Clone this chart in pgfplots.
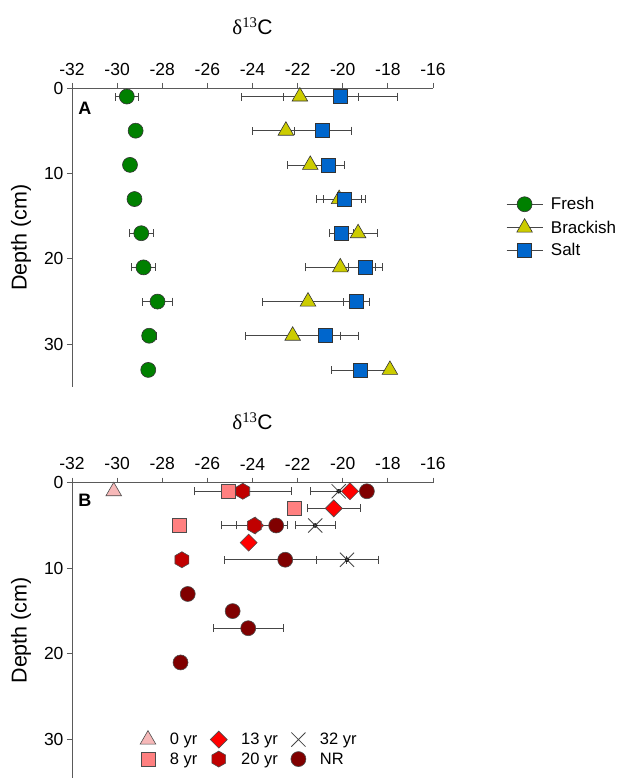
\documentclass[border=0pt]{standalone}
\usepackage{pgfplots}
\usepackage{pgfplotstable}
\pgfplotsset{compat=1.18}
\usepackage{fontspec}
\setmainfont{Liberation Sans}
\newfontfamily\tms{Liberation Serif}

\definecolor{fresh}{RGB}{0,128,0}
\definecolor{brack}{RGB}{204,204,0}
\definecolor{salt}{RGB}{0,102,204}
\definecolor{yrzero}{RGB}{246,184,184}
\definecolor{yreight}{RGB}{255,128,128}
\definecolor{yrthirteen}{RGB}{255,0,0}
\definecolor{yrtwenty}{RGB}{192,0,0}
\definecolor{nrcol}{RGB}{128,0,0}
\definecolor{axgray}{RGB}{90,90,90}
\definecolor{errgray}{RGB}{70,70,70}

% panel A: x = d13C, y = depth, ex = error
\pgfplotstableread{
x y ex
-29.57 1 0.50
-29.18 5 0
-29.43 9 0
-29.23 13 0
-28.93 17 0.52
-28.83 21 0.52
-28.21 25 0.65
-28.58 29 0.30
-28.62 33 0
}\fresh
\pgfplotstableread{
x y ex
-21.90 1 2.61
-22.52 5 1.50
-21.44 9 1.02
-20.16 13 0.99
-19.32 17 0.86
-20.11 21 1.55
-21.54 25 2.04
-22.22 29 2.11
-17.91 33 0
}\brackish
\pgfplotstableread{
x y ex
-20.10 1 2.52
-20.89 5 1.25
-20.64 9 0.71
-19.94 13 0.92
-20.07 17 0.53
-19.00 21 0.77
-19.39 25 0.59
-20.79 29 1.49
-19.24 33 1.25
}\salt

% panel B
\pgfplotstableread{
x y ex
-30.15 1 0
}\yrA
\pgfplotstableread{
x y ex
-25.08 1 0
-22.15 3 0
-27.24 5 0
}\yrB
\pgfplotstableread{
x y ex
-19.68 1 0
-20.40 3 1.17
-23.88 5 0.85
-24.17 7 0
}\yrC
\pgfplotstableread{
x y ex
-24.43 1 2.15
-23.92 5 1.47
-27.13 9 0
}\yrD
\pgfplotstableread{
x y ex
-20.18 1 1.26
-21.22 5 0.87
-19.81 9 1.37
}\yrE
\pgfplotstableread{
x y ex
-18.93 1 0
-22.95 5 0
-22.55 9 2.69
-26.87 13 0
-24.88 15 0
-24.19 17 1.55
-27.19 21 0
}\nr

% hexagon mark, point up
\pgfdeclareplotmark{hexagon*}{%
  \pgfpathmoveto{\pgfqpointpolar{90}{\pgfplotmarksize}}%
  \pgfpathlineto{\pgfqpointpolar{150}{\pgfplotmarksize}}%
  \pgfpathlineto{\pgfqpointpolar{210}{\pgfplotmarksize}}%
  \pgfpathlineto{\pgfqpointpolar{270}{\pgfplotmarksize}}%
  \pgfpathlineto{\pgfqpointpolar{330}{\pgfplotmarksize}}%
  \pgfpathlineto{\pgfqpointpolar{30}{\pgfplotmarksize}}%
  \pgfpathclose
  \pgfusepathqfillstroke}

\pgfplotsset{
  panel/.style={
    scale only axis, width=361pt,
    xmin=-32, xmax=-16, xtick={-32,-30,...,-16},
    y dir=reverse, ymin=0, ytick={0,10,20,30},
    axis x line=top, axis y line=left,
    axis line style={-, axgray, line width=0.8pt},
    tick style={axgray, line width=0.8pt},
    major tick length=5pt,
    tick align=outside,
    tick label style={font=\fontsize{17.5}{21}\selectfont},
    x tick label style={yshift=4pt},
    /pgf/number format/assume math mode=true,
    clip=false,
    title={{\tms δ\textsuperscript{13}}C},
    title style={font=\fontsize{21}{24}\selectfont, at={(0.5,1)}, anchor=base, yshift=47pt},
    ylabel={Depth (cm)},
    every axis y label/.style={at={(axis description cs:-0.141,0.5)}, rotate=90, anchor=center,
      font=\fontsize{21.5}{24}\selectfont},
  },
  % error bars only, drawn first so the marks sit on top
  ebar/.style={
    forget plot, only marks, mark=none,
    error bars/.cd, x dir=both, x explicit,
    error bar style={errgray, line width=0.7pt},
    error mark options={rotate=90, errgray, line width=0.7pt, mark size=4pt},
  },
}

\begin{document}
\begin{tikzpicture}[x=1pt,y=1pt]
\path[use as bounding box] (0,0) rectangle (619,778);

% ---------- panel A ----------
\begin{axis}[panel, at={(72pt,391pt)}, anchor=south west, height=299pt, ymax=35,
  legend style={at={(1.194,0.645)}, anchor=north west, draw=none, fill=none,
    font=\fontsize{17}{19}\selectfont, row sep=6.5pt, column sep=7pt, nodes={inner sep=1pt}},
  legend cell align=left,
  legend image code/.code={\draw[errgray, line width=0.7pt] (0pt,0pt)--(36pt,0pt);
    \draw[#1] plot coordinates {(18pt,0pt)};},
]
\addplot[ebar] table[x=x, y=y, x error=ex] {\fresh};
\addplot[ebar] table[x=x, y=y, x error=ex] {\brackish};
\addplot[ebar] table[x=x, y=y, x error=ex] {\salt};

\addplot[only marks, mark=*, mark size=7.5pt, mark options={fill=fresh, draw=black!80, line width=0.6pt}]
  table[x=x, y=y] {\fresh};
\addlegendentry{Fresh}
\addplot[only marks, mark=triangle*, mark size=9pt, mark options={fill=brack, draw=black!80, line width=0.6pt}]
  table[x=x, y=y] {\brackish};
\addlegendentry{Brackish}
\addplot[only marks, mark=square*, mark size=7pt, mark options={fill=salt, draw=black!80, line width=0.6pt}]
  table[x=x, y=y] {\salt};
\addlegendentry{Salt}
\node[font=\bfseries\fontsize{18}{20}\selectfont] at (axis description cs:0.036,0.933) {A};
\end{axis}

% ---------- panel B ----------
\begin{axis}[panel, at={(72pt,0pt)}, anchor=south west, height=295.3pt, ymax=34.5,
  legend columns=3,
  legend style={at={(0.18,0.168)}, anchor=north west, draw=none, fill=none,
    font=\fontsize{16.5}{19}\selectfont, row sep=3pt, nodes={inner sep=1pt},
    /tikz/every odd column/.style={column sep=13pt},
    /tikz/every even column/.style={column sep=12pt}},
  legend cell align=left,
  legend image code/.code={\draw[#1] plot coordinates {(0pt,0pt)};},
]
\addplot[ebar] table[x=x, y=y, x error=ex] {\yrC};
\addplot[ebar] table[x=x, y=y, x error=ex] {\yrE};
\addplot[ebar] table[x=x, y=y, x error=ex] {\yrD};
\addplot[ebar] table[x=x, y=y, x error=ex] {\nr};

\addplot[only marks, mark=triangle*, mark size=9pt, mark options={fill=yrzero, draw=black!70, line width=0.6pt}]
  table[x=x, y=y] {\yrA};
\addlegendentry{0 yr}
\addplot[only marks, mark=square*, mark size=6pt, mark options={rotate=45, fill=yrthirteen, draw=black!70, line width=0.6pt}]
  table[x=x, y=y] {\yrC};
\addlegendentry{13 yr}
\addplot[only marks, mark=x, mark size=10pt, mark options={draw=errgray, line width=0.8pt}]
  table[x=x, y=y] {\yrE};
\addlegendentry{32 yr}
\addplot[only marks, mark=square*, mark size=7pt, mark options={fill=yreight, draw=black!70, line width=0.6pt}]
  table[x=x, y=y] {\yrB};
\addlegendentry{8 yr}
\addplot[only marks, mark=hexagon*, mark size=8pt, mark options={fill=yrtwenty, draw=black!70, line width=0.6pt}]
  table[x=x, y=y] {\yrD};
\addlegendentry{20 yr}
\addplot[only marks, mark=*, mark size=7.5pt, mark options={fill=nrcol, draw=black!70, line width=0.6pt}]
  table[x=x, y=y] {\nr};
\addlegendentry{NR}
\node[font=\bfseries\fontsize{18}{20}\selectfont] at (axis description cs:0.036,0.94) {B};
\end{axis}
\end{tikzpicture}
\end{document}
